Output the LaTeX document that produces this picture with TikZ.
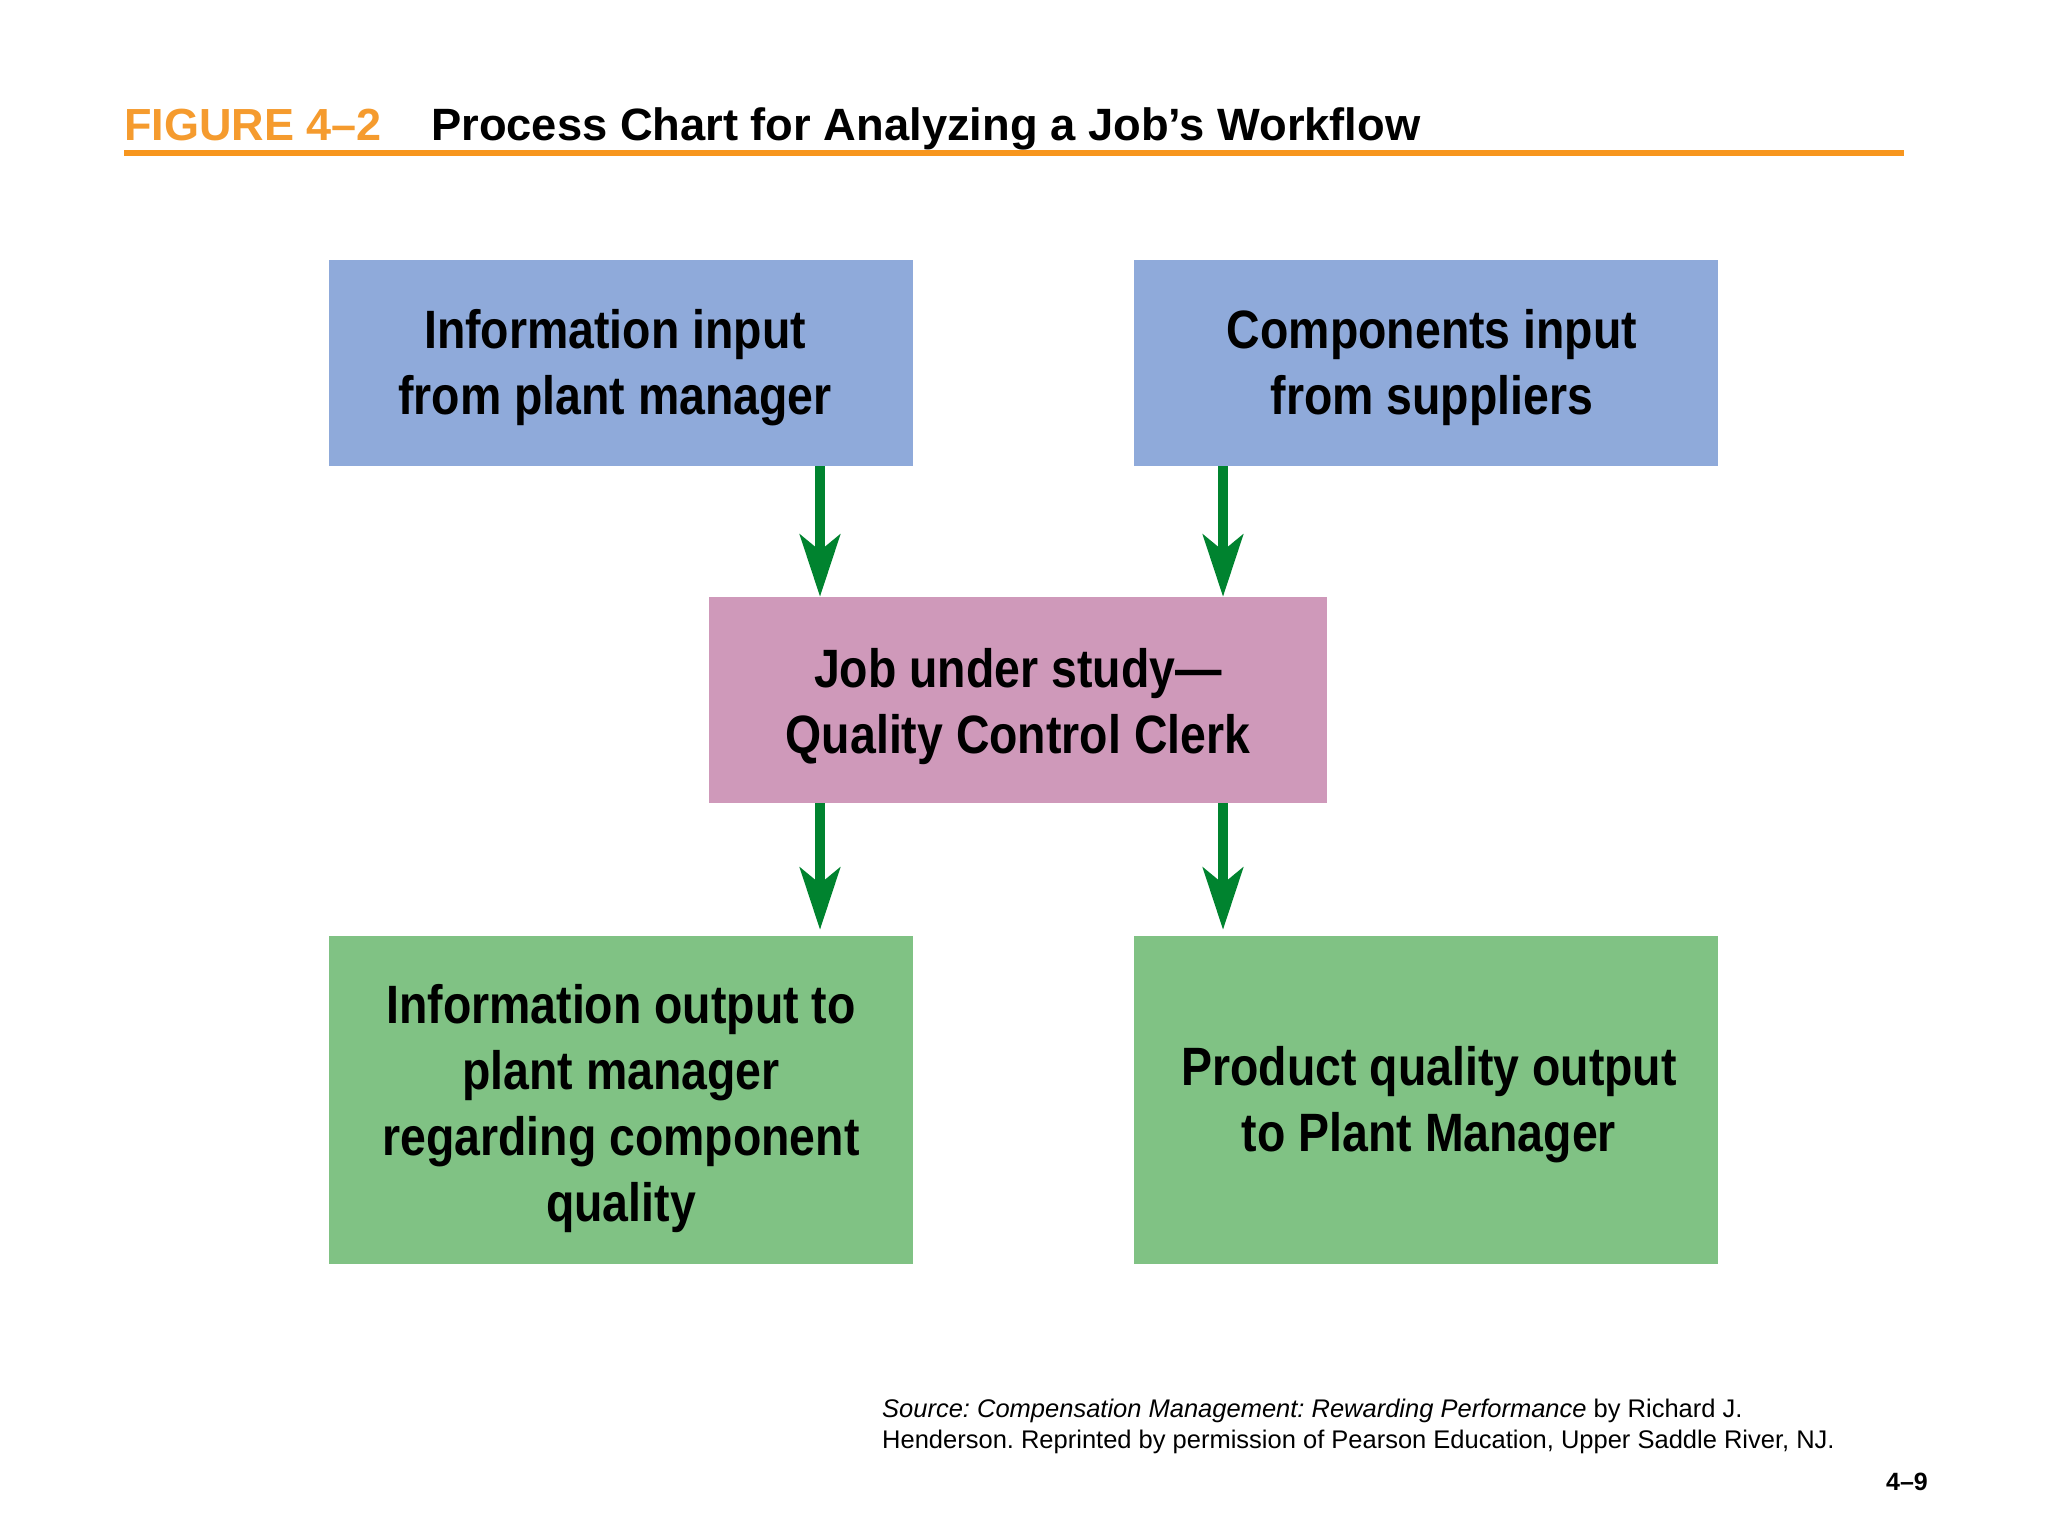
\documentclass[tikz,border=0pt]{standalone}
\usepackage{fontspec}
\setmainfont{Liberation Sans}
\newfontfamily\boxfont[FakeStretch=0.86]{Liberation Sans}
\usetikzlibrary{arrows.meta}
\definecolor{figorange}{HTML}{F59B2E}
\definecolor{ruleorange}{HTML}{F7961E}
\definecolor{inblue}{HTML}{8FAADA}
\definecolor{jobpink}{HTML}{CF99BA}
\definecolor{outgreen}{HTML}{80C284}
\definecolor{arrgreen}{HTML}{00832F}
\tikzset{
  flowbox/.style={rectangle, inner sep=0pt, minimum width=584pt, minimum height=206pt},
  boxtext/.style={inner sep=0pt, align=center, text=black,
    font=\boxfont\bfseries\fontsize{54}{66}\selectfont},
  flowarrow/.style={draw=arrgreen, line width=10pt,
    -{Stealth[length=62pt, width=40pt, inset=16pt, fill=arrgreen]}},
  srctext/.style={anchor=base west, inner sep=0pt, font=\fontsize{25.5}{31}\selectfont}
}
\begin{document}
\frenchspacing
\begin{tikzpicture}[x=1pt,y=-1pt]
\useasboundingbox (0,0) rectangle (2048,1536);
\fill[white] (0,0) rectangle (2048,1536);
% title
\node[anchor=base west, inner sep=0pt, text=figorange, font=\bfseries\fontsize{45}{54}\selectfont] (fig) at (124,141) {FIGURE 4–2};
\node[anchor=base west, inner sep=0pt, font=\bfseries\fontsize{45.3}{54}\selectfont] (title) at (431,141) {Process Chart for Analyzing a Job’s Workflow};
\coordinate (rl) at (124,153);
\coordinate (rr) at (1904,153);
\draw[ruleorange, line width=6pt] (rl) -- (rr);
% boxes
\node[flowbox, fill=inblue] (b1) at (621,363) {};
\node[boxtext] (t1) at ([xshift=-6pt,yshift=-5pt]b1.center) {Information input\\from plant manager};
\node[flowbox, fill=inblue] (b2) at (1426,363) {};
\node[boxtext] (t2) at ([xshift=6pt,yshift=-5pt]b2.center) {Components input\\from suppliers};
\node[flowbox, fill=jobpink, minimum width=618pt] (b3) at (1018,700) {};
\node[boxtext] (t3) at ([yshift=-7pt]b3.center) {Job under study—\\Quality Control Clerk};
\node[flowbox, fill=outgreen, minimum height=328pt] (b4) at (621,1100) {};
\node[boxtext] (t4) at ([yshift=-9pt]b4.center) {Information output to\\plant manager\\regarding component\\quality};
\node[flowbox, fill=outgreen, minimum height=328pt] (b5) at (1426,1100) {};
\node[boxtext] (t5) at ([xshift=3pt,yshift=-5pt]b5.center) {Product quality output\\to Plant Manager};
% arrows
\coordinate (xa) at (820,0);
\coordinate (xb) at (1223,0);
\draw[flowarrow] (b1.south -| xa) -- (b3.north -| xa);
\draw[flowarrow] (b2.south -| xb) -- (b3.north -| xb);
\draw[flowarrow, shorten >=6pt] (b3.south -| xa) -- (b4.north -| xa);
\draw[flowarrow, shorten >=6pt] (b3.south -| xb) -- (b5.north -| xb);
% source
\node[srctext] (src1) at (882,1417) {\itshape Source: Compensation Management: Rewarding Performance\upshape{} by Richard J.};
\node[srctext] (src2) at (882,1448) {Henderson. Reprinted by permission of Pearson Education, Upper Saddle River, NJ.};
\node[anchor=base east, inner sep=0pt, font=\bfseries\fontsize{25}{30}\selectfont] (pg) at (1928,1490) {4–9};
\end{tikzpicture}
\end{document}
